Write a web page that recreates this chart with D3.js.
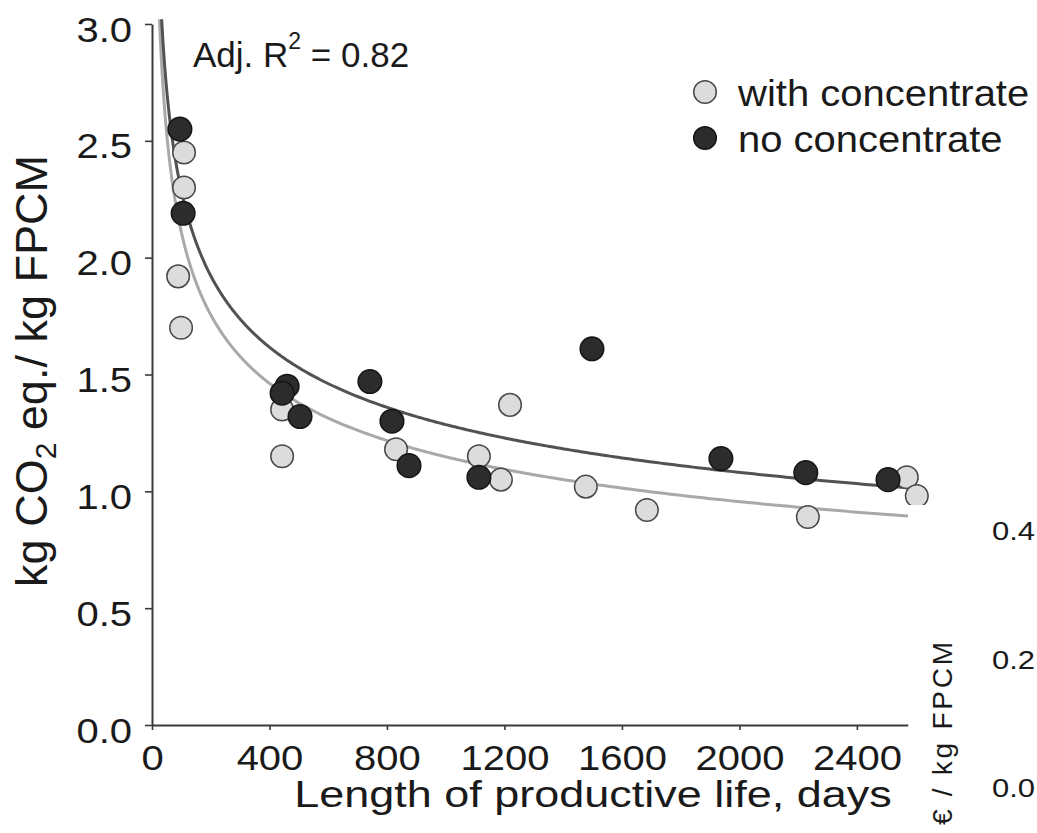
<!DOCTYPE html>
<html>
<head>
<meta charset="utf-8">
<script src="https://cdn.jsdelivr.net/npm/d3@7"></script>
<style>
  html, body { margin: 0; padding: 0; background: #fff; }
  svg { display: block; font-family: "Liberation Sans", Arial, sans-serif; }
</style>
</head>
<body>
<svg id="chart" width="1037" height="833"></svg>
<script>
// Productive life (days) vs. carbon footprint (kg CO2 eq. / kg FPCM)
const xTicks = [0, 400, 800, 1200, 1600, 2000, 2400];
const yTicks = [0, 0.5, 1.0, 1.5, 2.0, 2.5, 3.0];

// [days, kg CO2 eq. / kg FPCM]
const withConcentrate = [
  [109, 2.45], [109, 2.30], [89, 1.92], [99, 1.70],
  [443, 1.35], [443, 1.15], [831, 1.18], [1219, 1.37],
  [1113, 1.15], [1188, 1.05], [1477, 1.02], [1685, 0.92],
  [2233, 0.89], [2570, 1.06], [2604, 0.98]
];
const noConcentrate = [
  [95, 2.55], [106, 2.19], [460, 1.45], [443, 1.42],
  [504, 1.32], [742, 1.47], [817, 1.30], [875, 1.11],
  [1113, 1.06], [1498, 1.61], [1937, 1.14], [2226, 1.08],
  [2506, 1.05]
];

// Power-law fits y = a * x^b
const fitWith = [7.11, -0.264];
const fitNo = [7.23, -0.25];

const legendLabels = ["with concentrate", "no concentrate"];
const rightTicks = ["0.4", "0.2", "0.0"];

const svg = d3.select("#chart");
const x = d3.scaleLinear().domain([0, 2574]).range([152, 908]);
const y = d3.scaleLinear().domain([0, 3]).range([725, 24]);

const ink = "#1a1a1a";
const axisInk = "#3a3a3a";

// clip for the fitted curves (top of the y range)
svg.append("defs").append("clipPath").attr("id", "plotClip")
  .append("rect").attr("x", 140).attr("y", y(3.02))
  .attr("width", x(2574) - 140).attr("height", y(0) - y(3.02));

// axes
const xAxis = svg.append("g").attr("transform", `translate(0,${y(0)})`)
  .call(d3.axisBottom(x).tickValues(xTicks).tickSize(5).tickSizeOuter(0).tickFormat(d3.format("d")));
const yAxis = svg.append("g").attr("transform", `translate(${x(0)},0)`)
  .call(d3.axisLeft(y).tickValues(yTicks).tickSize(7).tickSizeOuter(0).tickFormat(d3.format(".1f")));

[xAxis, yAxis].forEach(g => {
  g.select(".domain").attr("stroke", axisInk).attr("stroke-width", 2);
  g.selectAll(".tick line").attr("stroke", axisInk).attr("stroke-width", 1.6);
  g.selectAll(".tick text").attr("fill", ink).attr("font-size", 40)
    .attr("font-family", "Liberation Sans, Arial, sans-serif");
});
xAxis.selectAll(".tick text")
  .attr("y", 0).attr("dy", null)
  .attr("transform", "translate(0,45) scale(1,0.86)");
yAxis.selectAll(".tick text")
  .attr("x", 0).attr("dy", null)
  .attr("transform", "translate(-20,17) scale(1,0.86)");

// fitted curves
function curvePoints(fit) {
  const [a, b] = fit;
  const x0 = Math.pow(3.05 / a, 1 / b);
  const pts = [];
  const n = 500;
  for (let i = 0; i <= n; i++) {
    const t = i / n;
    const d = Math.exp(Math.log(x0) + t * (Math.log(2574) - Math.log(x0)));
    pts.push([d, a * Math.pow(d, b)]);
  }
  return pts;
}
const line = d3.line().x(d => x(d[0])).y(d => y(d[1]));
const curves = svg.append("g").attr("clip-path", "url(#plotClip)");
curves.append("path").attr("d", line(curvePoints(fitWith)))
  .attr("fill", "none").attr("stroke", "#a9a9a9").attr("stroke-width", 3);
curves.append("path").attr("d", line(curvePoints(fitNo)))
  .attr("fill", "none").attr("stroke", "#525252").attr("stroke-width", 3);

// points
const lightStyle = { fill: "#dcdcdc", stroke: "#4a4a4a" };
const darkStyle = { fill: "#2c2c2c", stroke: "#151515" };
const pts = svg.append("g");
pts.selectAll("circle.with").data(withConcentrate).join("circle")
  .attr("class", "with")
  .attr("cx", d => x(d[0])).attr("cy", d => y(d[1])).attr("r", 11.3)
  .attr("fill", lightStyle.fill).attr("stroke", lightStyle.stroke).attr("stroke-width", 1.5);
pts.selectAll("circle.no").data(noConcentrate).join("circle")
  .attr("class", "no")
  .attr("cx", d => x(d[0])).attr("cy", d => y(d[1])).attr("r", 11.8)
  .attr("fill", darkStyle.fill).attr("stroke", darkStyle.stroke).attr("stroke-width", 1.5);

// panel edge
svg.append("rect").attr("x", x(2574) + 0.5).attr("y", 505)
  .attr("width", 18).attr("height", 230).attr("fill", "#fff");

// helper for horizontally set text with a vertical squash
function label(txt, px, py, size, anchor, sy) {
  return svg.append("text")
    .attr("transform", `translate(${px},${py}) scale(1,${sy})`)
    .attr("text-anchor", anchor).attr("font-size", size).attr("fill", ink)
    .text(txt);
}

// x-axis title
label("Length of productive life, days", 593, 807, 45, "middle", 0.82);

// y-axis title
const yTitle = svg.append("text")
  .attr("transform", "translate(47,371) rotate(-90)")
  .attr("text-anchor", "middle").attr("font-size", 45).attr("fill", ink);
yTitle.append("tspan").text("kg CO");
yTitle.append("tspan").attr("font-size", 30).attr("dy", 9).text("2");
yTitle.append("tspan").attr("dy", -9).text(" eq./ kg FPCM");

// fit statistic
const r2 = svg.append("text").attr("x", 193).attr("y", 67)
  .attr("font-size", 35).attr("fill", ink);
r2.append("tspan").text("Adj. R");
r2.append("tspan").attr("font-size", 23).attr("dy", -18).text("2");
r2.append("tspan").attr("dy", 18).text(" = 0.82");

// legend
const legendY = [92, 138];
const legendStyles = [lightStyle, darkStyle];
legendLabels.forEach((t, i) => {
  svg.append("circle").attr("cx", 705).attr("cy", legendY[i]).attr("r", 11.3)
    .attr("fill", legendStyles[i].fill).attr("stroke", legendStyles[i].stroke).attr("stroke-width", 1.5);
  label(t, 738, legendY[i] + 14, 40, "start", 0.9);
});

// secondary axis labels at the right edge
const rightY = [540, 669, 797];
rightTicks.forEach((t, i) => label(t, 992, rightY[i], 31, "start", 0.83));
svg.append("text")
  .attr("transform", "translate(952,825) rotate(-90)")
  .attr("text-anchor", "start").attr("font-size", 28).attr("fill", ink)
  .attr("textLength", 183).attr("lengthAdjust", "spacing")
  .text("€ / kg FPCM");
</script>
</body>
</html>
